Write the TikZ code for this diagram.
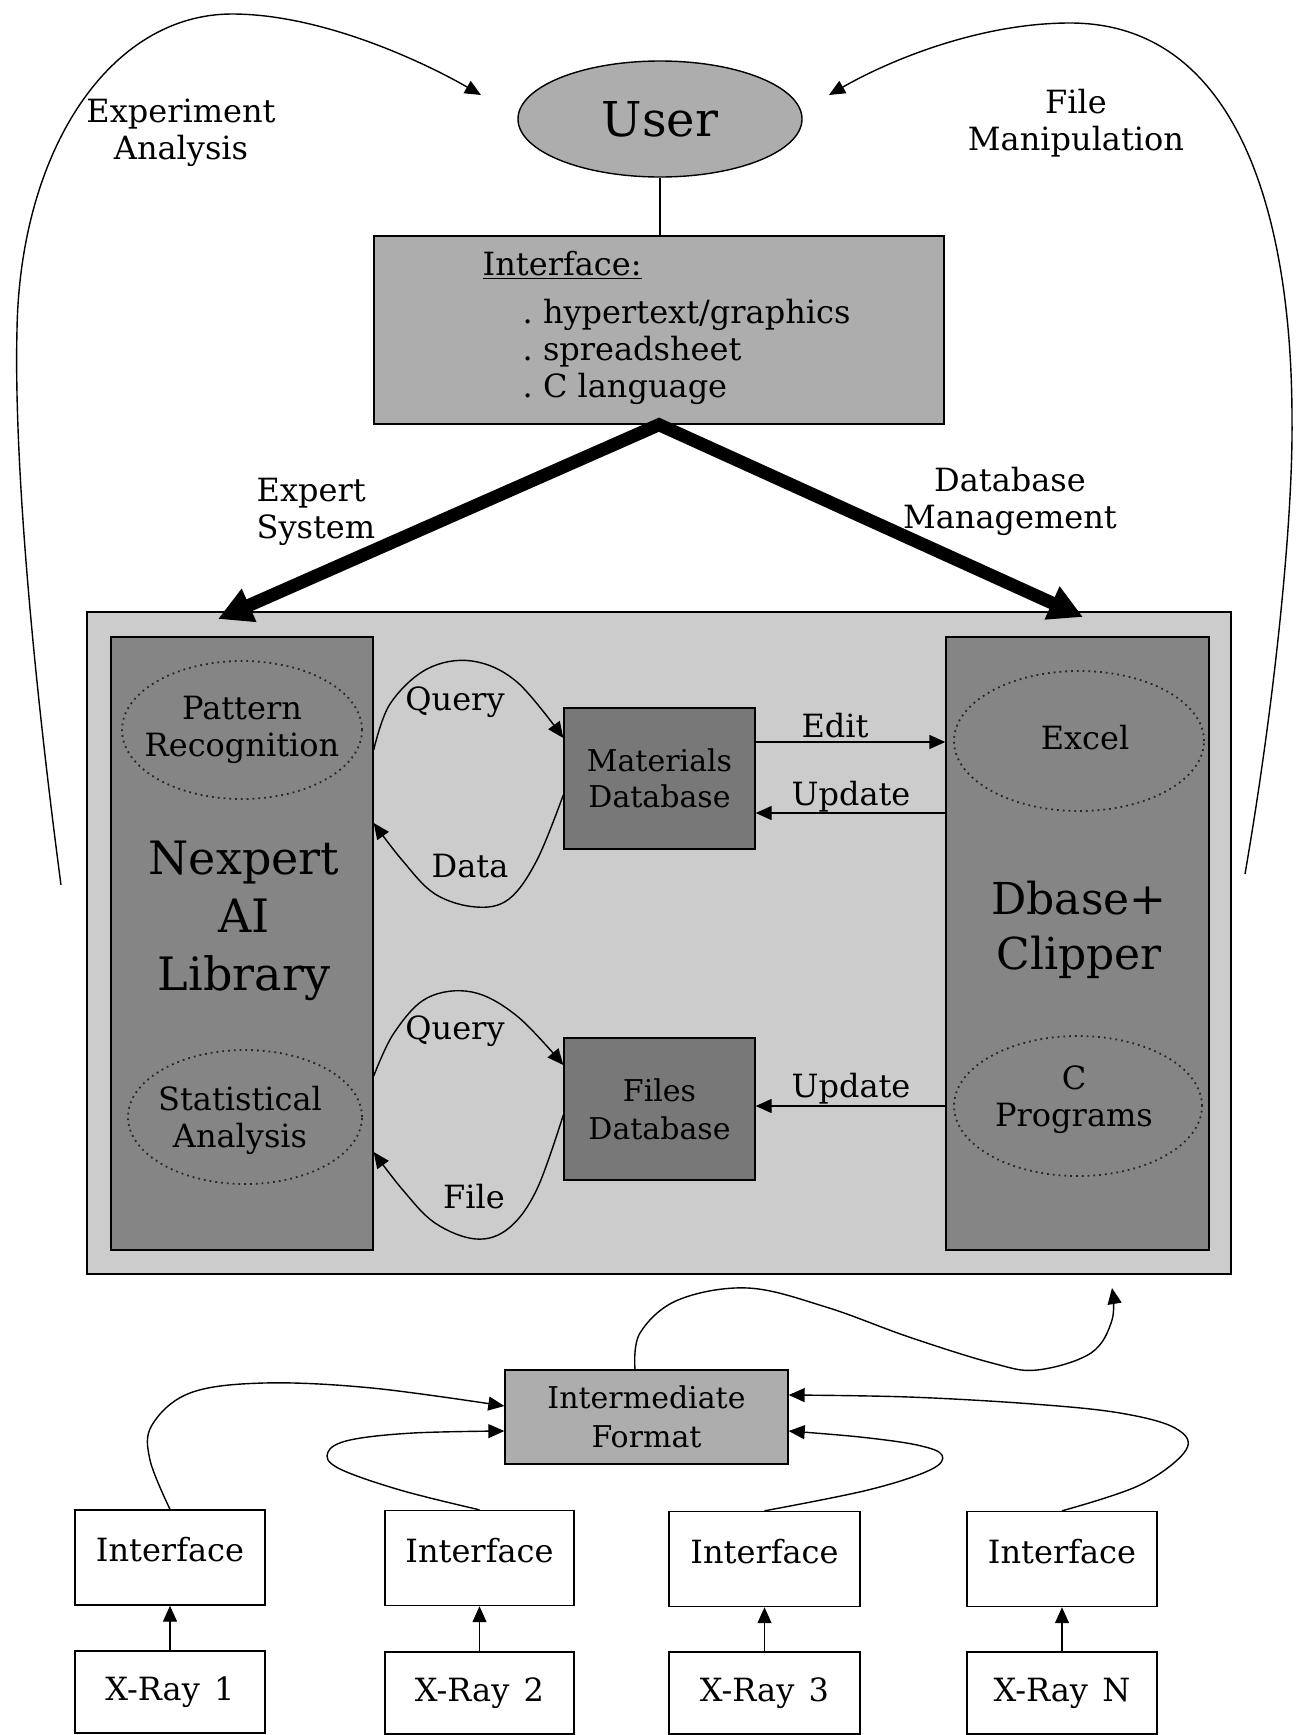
\documentclass[tikz,border=0pt]{standalone}
\usepackage{fontspec}
\setmainfont{DejaVu Serif}
\usetikzlibrary{arrows.meta,shapes.geometric}
\definecolor{gA}{gray}{0.68}
\definecolor{gB}{gray}{0.80}
\definecolor{gC}{gray}{0.52}
\definecolor{gD}{gray}{0.47}
\newcommand\myfs[2]{\fontsize{#1}{#2}\selectfont}
\tikzset{
  thinarr/.style={-{Triangle[length=8pt,width=7pt]}},
  bigarr/.style={line width=6.5pt,line join=miter,{Triangle[length=17pt,width=17pt]}-{Triangle[length=17pt,width=17pt]}},
  boxnode/.style={draw,rectangle,inner sep=0pt,align=center},
  ellnode/.style={draw,ellipse,inner sep=0pt},
  dotell/.style={draw=black!85,dotted,line width=0.9pt,ellipse,inner sep=0pt},
  lbl/.style={inner sep=0pt,align=center},
}
\begin{document}
\begin{tikzpicture}[x=0.5pt,y=-0.5pt,line width=0.7pt,font=\myfs{16}{18.5}]
\fill[white] (0,0) rectangle (1296,1735);
\useasboundingbox (0,0) rectangle (1296,1735);

% ---------- top ----------
\node[ellnode,fill=gA,minimum width=142pt,minimum height=58pt,font=\myfs{24}{28}] (user) at (660,119) {User};
\node[boxnode,fill=gA,minimum width=285pt,minimum height=94pt] (iface) at (659,330) {};
\node[anchor=base west,inner sep=0pt] (ifhead) at (482,275) {\underline{Interface:}};
\node[anchor=base west,inner sep=0pt] (ifl1) at (522,323) {.~hypertext/graphics};
\node[anchor=base west,inner sep=0pt] (ifl2) at (522,360) {.~spreadsheet};
\node[anchor=base west,inner sep=0pt] (ifl3) at (522,397) {.~C language};
\draw (user.south) -- (user.south |- iface.north);

\node[lbl] (lea) at (181,133) {Experiment\\Analysis};
\node[lbl] (lfm) at (1076,123) {File\\Manipulation};
\node[lbl,align=left,anchor=west] (les) at (256,512) {Expert\\System};
\node[lbl] (ldm) at (1010,501) {Database\\Management};

% ---------- main block ----------
\node[boxnode,fill=gB,minimum width=572pt,minimum height=331pt] (main) at (659,943) {};
\node[boxnode,fill=gC,minimum width=131pt,minimum height=306.5pt] (nexpert) at (242,943.5) {};
\node[boxnode,fill=gC,minimum width=131.5pt,minimum height=306.5pt] (dbase) at (1077.5,943.5) {};
\node[boxnode,fill=gD,minimum width=95.5pt,minimum height=70.5pt,font=\myfs{15}{18}] (mat) at (659.5,778.5) {Materials\\Database};
\node[boxnode,fill=gD,minimum width=95.5pt,minimum height=71pt,font=\myfs{15}{19}] (files) at (659.5,1109) {Files\\Database};

\node[dotell,minimum width=120pt,minimum height=69pt] (patrec) at (242,730) {};
\node[lbl] (patrect) at (patrec) {Pattern\\Recognition};
\node[dotell,minimum width=117pt,minimum height=67pt] (stat) at (245,1117) {};
\node[lbl] (statt) at (240,1120) {Statistical\\Analysis};
\node[dotell,minimum width=125pt,minimum height=70pt] (excel) at (1079,741) {};
\node[lbl] (excelt) at (1085,738) {Excel};
\node[dotell,minimum width=124pt,minimum height=70pt] (cprog) at (1078,1106) {};
\node[lbl] (cprogt) at (1074,1100) {C\\Programs};

\node[lbl,font=\myfs{23}{29}] (nextext) at (244,921) {Nexpert\\AI\\Library};
\node[lbl,font=\myfs{22}{27.5}] (dbtext) at (1079,930) {Dbase+\\Clipper};

% thick arrows
\coordinate (tipL) at (218,619);
\coordinate (tipR) at (1083,617);
\draw[bigarr] (tipL) -- (iface.south) -- (tipR);

% query / data curves
\draw[thinarr] plot[smooth,tension=0.6] coordinates {(nexpert.east |- 0,750) (390,704) (427,669) (472,661) (517,682) (mat.west |- 0,738)};
\draw[thinarr] plot[smooth,tension=0.6] coordinates {(mat.west |- 0,795) (537,860) (509,899) (476,907) (435,894) (402,860) (nexpert.east |- 0,823)};
\draw[thinarr] plot[smooth,tension=0.6] coordinates {(nexpert.east |- 0,1076) (394,1033) (427,998) (472,992) (517,1016) (files.west |- 0,1065)};
\draw[thinarr] plot[smooth,tension=0.6] coordinates {(files.west |- 0,1115) (537,1189) (509,1228) (476,1239) (435,1223) (402,1189) (nexpert.east |- 0,1152)};
\node[lbl] (lq1) at (455,702) {Query};
\node[lbl] (ld1) at (470,866) {Data};
\node[lbl] (lq2) at (455,1031) {Query};
\node[lbl] (lf2) at (474,1197) {File};

\draw[thinarr] (mat.east |- 0,742) -- (dbase.west |- 0,742);
\draw[thinarr] (dbase.west |- 0,813) -- (mat.east |- 0,813);
\draw[thinarr] (dbase.west |- 0,1106) -- (files.east |- 0,1106);
\node[lbl] (ledit) at (835,726) {Edit};
\node[lbl] (lup1) at (851,797) {Update};
\node[lbl] (lup2) at (851,1089) {Update};

% big side curves
\coordinate (eaS) at (61,885);
\coordinate (ua) at (481,95);
\coordinate (fmS) at (1245,874);
\coordinate (ub) at (829,95);
\draw[thinarr] (eaS) .. controls (30,650) and (14,450) .. (17,330)
  .. controls (20,150) and (110,14) .. (232,14)
  .. controls (320,14) and (420,60) .. (ua);
\draw[thinarr] (fmS) .. controls (1275,700) and (1293,520) .. (1292,420)
  .. controls (1292,220) and (1240,23) .. (1070,23)
  .. controls (980,23) and (890,60) .. (ub);

% ---------- bottom ----------
\node[boxnode,fill=gA,minimum width=141.5pt,minimum height=47pt,font=\myfs{15}{19.5}] (inter) at (646.5,1417) {Intermediate\\Format};
\coordinate (tipB) at (1112,1288);
\draw[thinarr] plot[smooth,tension=0.6] coordinates {(inter.north -| 635,0) (640,1333) (678,1300) (748,1288) (826,1307) (909,1337) (992,1363) (1037,1370) (1091,1353) (1112,1320) (tipB)};

\node[boxnode,minimum width=95pt,minimum height=47.5pt] (if1) at (170,1557.5) {};
\node[boxnode,minimum width=94.5pt,minimum height=47.5pt] (if2) at (479.5,1558) {};
\node[boxnode,minimum width=95.5pt,minimum height=47.5pt] (if3) at (764.5,1559) {};
\node[boxnode,minimum width=95pt,minimum height=47.5pt] (if4) at (1062,1559) {};
\node[lbl] (if1t) at ([yshift=3.75pt]if1.center) {Interface};
\node[lbl] (if2t) at ([yshift=3.75pt]if2.center) {Interface};
\node[lbl] (if3t) at ([yshift=3.75pt]if3.center) {Interface};
\node[lbl] (if4t) at ([yshift=3.75pt]if4.center) {Interface};

\node[boxnode,minimum width=95pt,minimum height=41pt] (xr1) at (170,1692) {X-Ray\hspace{0.45em}1};
\node[boxnode,minimum width=94.5pt,minimum height=41pt] (xr2) at (479.5,1693) {X-Ray\hspace{0.45em}2};
\node[boxnode,minimum width=95.5pt,minimum height=41pt] (xr3) at (764.5,1693) {X-Ray\hspace{0.45em}3};
\node[boxnode,minimum width=95pt,minimum height=41pt] (xr4) at (1062,1693) {X-Ray\hspace{0.45em}N};

\draw[thinarr] (xr1) -- (if1);
\draw[thinarr] (xr2) -- (if2);
\draw[thinarr] (xr3) -- (if3);
\draw[thinarr] (xr4) -- (if4);

\draw[thinarr] plot[smooth,tension=0.6] coordinates {(if1.north) (150,1460) (152,1425) (190,1393) (264,1383) (372,1388) (inter.west |- 0,1406)};
\draw[thinarr] plot[smooth,tension=0.6] coordinates {(if2.north) (400,1490) (338,1468) (328,1452) (350,1440) (413,1433) (inter.west |- 0,1431)};
\draw[thinarr] plot[smooth,tension=0.6] coordinates {(if3.north) (868,1490) (930,1470) (942,1455) (917,1445) (860,1437) (inter.east |- 0,1431)};
\draw[thinarr] plot[smooth,tension=0.6] coordinates {(if4.north) (1140,1485) (1186,1450) (1175,1428) (1120,1413) (1033,1404) (909,1397) (inter.east |- 0,1395)};
\end{tikzpicture}
\end{document}
